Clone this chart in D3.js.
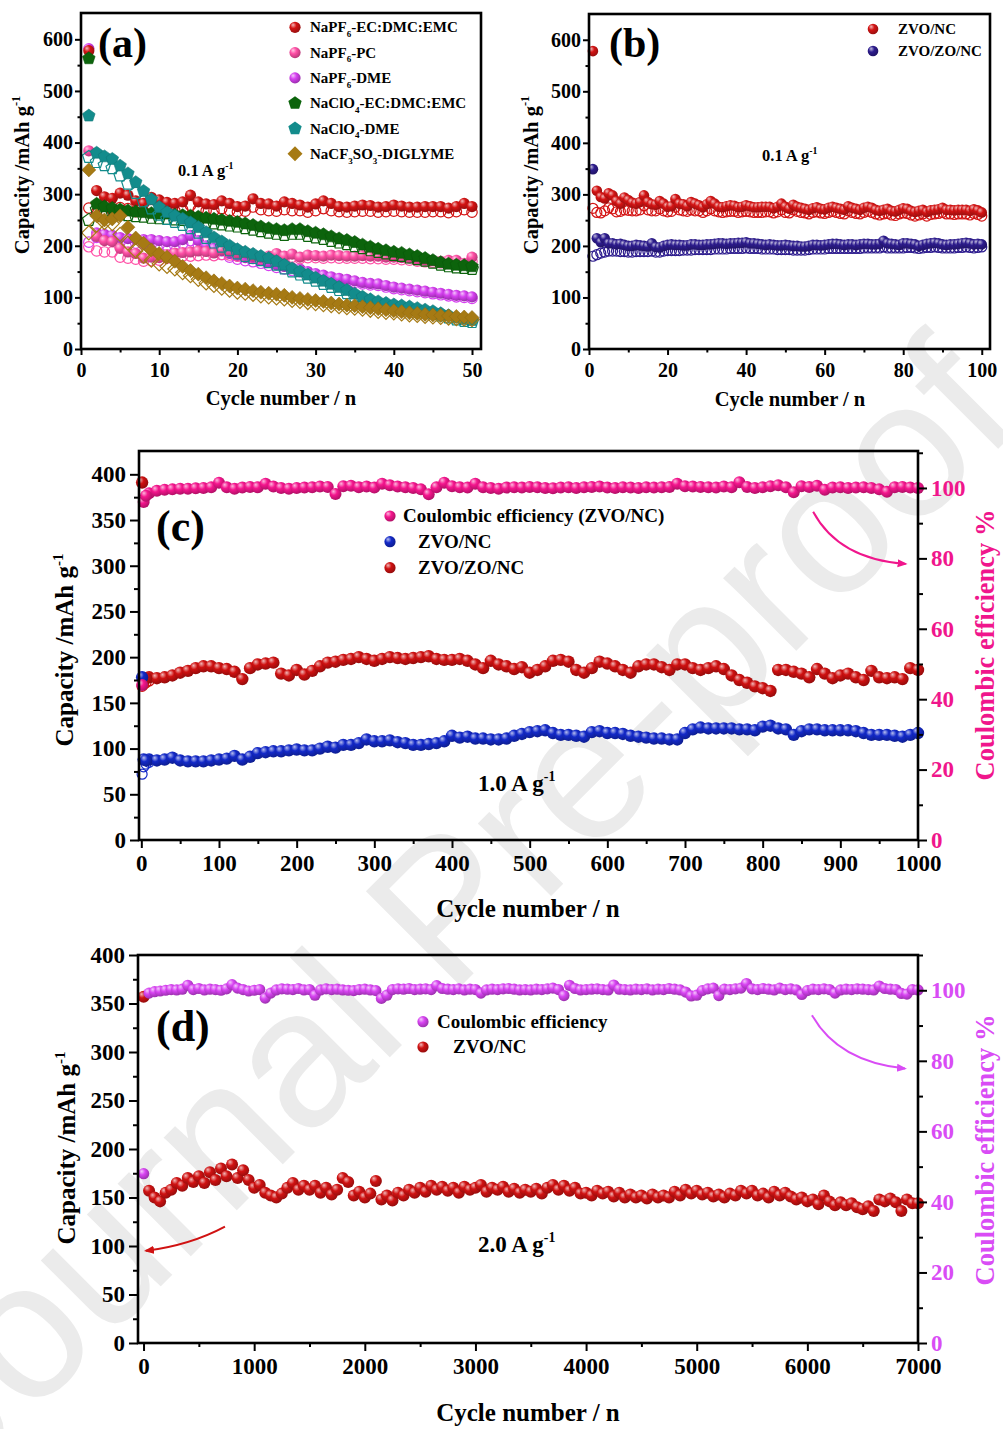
<!DOCTYPE html>
<html>
<head>
<meta charset="utf-8">
<script src="https://cdn.jsdelivr.net/npm/d3@7"></script>
<style>
  body { margin: 0; background: #fff; }
</style>
</head>
<body>
<svg id="chart" width="1003" height="1429"></svg>
<script>
// ---------- data: panel (a), cycles 1..50 ----------
const aRedD   = [578,307,295,292,302,298,287,282,294,289,284,282,285,298,285,281,280,287,282,276,277,291,282,281,277,285,282,279,275,281,287,282,276,275,277,279,278,275,276,279,277,275,275,276,276,276,273,276,282,276];
const aRedC   = [273,265,264,268,274,272,266,267,270,269,268,268,270,278,270,268,268,272,268,266,267,275,270,268,267,270,268,268,265,268,272,268,266,265,266,267,267,265,266,267,266,265,265,265,266,266,264,266,270,265];
const aPinkD  = [384,218,210,208,195,188,185,176,178,177,183,186,187,188,190,189,186,192,190,186,186,180,178,180,185,180,184,178,182,181,180,182,181,180,180,181,180,180,178,178,177,176,173,172,171,170,172,172,166,178];
const aPinkC  = [198,190,188,188,178,176,174,170,171,172,176,178,180,180,181,182,181,183,182,180,180,176,175,176,178,176,178,175,177,177,176,177,176,176,176,176,175,175,174,174,173,172,170,169,168,167,168,168,164,170];
const aVioD   = [582,225,222,220,216,214,213,212,212,210,208,208,212,220,210,200,195,190,185,180,177,175,172,168,163,160,157,155,150,146,143,140,137,135,132,129,127,126,123,120,118,116,114,112,110,108,106,104,103,101];
const aVioC   = [207,216,213,212,208,206,205,204,204,202,200,200,204,210,202,193,188,183,178,174,171,169,166,162,158,155,152,150,146,142,139,136,134,132,129,126,124,123,120,117,115,113,111,109,107,105,103,101,100,98];
const aGreenD = [563,281,276,273,270,268,266,265,263,262,262,260,259,258,256,254,252,250,248,246,243,240,237,234,232,230,232,232,228,225,222,218,214,211,207,202,198,194,191,188,186,183,180,176,172,168,165,163,162,160];
const aGreenC = [250,270,266,263,261,259,257,256,254,253,252,251,250,249,247,245,243,241,239,237,234,231,228,225,223,221,223,223,219,216,213,209,206,203,199,195,191,188,185,182,180,177,174,171,167,163,160,158,157,155];
const aTealD  = [452,380,373,368,355,340,323,306,290,275,265,258,252,245,236,226,216,208,200,193,188,184,180,176,170,163,156,150,144,138,132,126,120,114,107,101,96,92,89,86,84,82,79,76,73,69,65,61,58,56];
const aTealC  = [372,362,356,350,336,320,302,286,272,260,252,246,240,234,225,215,206,198,191,185,180,176,172,168,163,156,150,144,138,132,126,120,114,108,101,96,91,88,85,82,80,78,75,72,69,65,61,57,54,52];
const aBrownD = [347,258,250,252,258,236,215,205,192,185,178,170,160,152,145,138,132,127,122,118,116,113,110,108,106,104,100,98,96,94,92,89,87,85,84,82,80,78,76,74,72,70,69,67,66,65,64,63,62,61];
const aBrownC = [225,240,245,243,222,205,190,180,172,165,160,155,148,142,135,128,123,118,114,110,108,106,103,101,99,97,94,92,90,88,86,84,82,80,79,77,75,73,71,70,68,66,65,63,62,61,60,59,58,57];
const aNames  = ["NaPF_{6}-EC:DMC:EMC","NaPF_{6}-PC","NaPF_{6}-DME","NaClO_{4}-EC:DMC:EMC","NaClO_{4}-DME","NaCF_{3}SO_{3}-DIGLYME"];

// ---------- data: panel (b), cycles 1..100 ----------
const bRedD  = aRedD.concat([272,280,276,274,272,270,273,275,272,271,274,276,274,272,270,277,274,272,270,274,276,274,270,268,270,272,268,267,270,273,272,268,266,268,270,266,269,270,271,274,270,270,269,270,270,270,268,271,269,265]);
const bRedC  = aRedC.concat([264,270,267,265,264,262,265,266,264,263,265,267,265,263,262,268,265,263,262,265,267,265,262,260,262,263,260,259,262,264,263,260,258,260,262,258,261,262,263,265,262,262,261,262,262,262,260,263,261,258]);
const bBlueD = [349,215,207,215,205,205,203,204,202,200,200,202,201,200,199,205,198,197,200,202,203,202,202,201,201,203,203,202,202,203,203,204,205,205,204,205,205,206,206,207,205,205,204,203,202,203,202,201,201,202,201,200,200,199,199,200,202,202,201,202,203,204,204,203,202,203,203,202,203,204,204,203,203,204,210,205,204,203,202,205,205,204,203,200,202,204,205,206,205,203,202,203,203,204,205,206,205,203,204,203];
const bBlueC = [180,183,186,188,190,190,190,189,189,188,188,189,189,189,189,190,188,188,190,191,191,191,191,192,192,192,193,193,193,193,193,194,194,194,194,195,195,195,195,196,195,195,195,194,194,194,194,193,193,193,193,192,192,192,192,193,194,194,194,194,195,195,195,195,195,195,195,195,195,196,196,196,196,196,198,196,196,196,196,196,197,197,196,195,196,197,197,198,197,196,196,196,196,197,197,198,197,196,197,198];
const bNames = ["ZVO/NC","ZVO/ZO/NC"];

// ---------- data: panel (c), cycles 1,10,20..1000 ----------
const cRed = [391,178,177,178,180,183,185,188,190,190, 188,187,184,176,188,192,193,194,182,180, 186,181,185,190,194,195,197,198,200,198,
              196,198,200,199,198,199,200,201,198,197, 197,198,196,192,188,196,192,190,187,189, 183,186,190,196,197,195,186,183,188,195,
              193,190,186,183,190,192,192,189,186,192, 192,188,186,188,190,187,180,175,172,168, 166,163,186,186,184,182,178,187,182,177,
              180,182,178,175,185,178,177,178,176,188, 186];
const cBlue = [178,88,87,88,90,87,86,86,86,87, 88,89,92,88,91,95,96,97,97,98, 99,98,98,100,102,101,104,104,106,110,
               108,108,109,107,106,104,104,105,106,108, 114,112,113,111,111,110,110,111,114,116, 118,119,120,117,115,115,114,113,118,119,
               117,117,116,114,113,112,111,111,110,110, 117,121,123,122,122,122,122,121,121,120, 124,125,122,121,115,119,121,121,120,120,
               120,120,119,117,115,115,115,114,113,115, 117];
const cCE = [44,98.5,99.2,99.5,99.6,99.8,99.8,99.9,100,100.2, 101.5,100.2,99.8,100.1,100.3,100.2,101.2,100.4,100,99.8,
             100,100.1,100.2,100.4,100.3,98.3,100.5,100.6,100.2,100.4, 100.1,101.2,100.8,100.4,100.2,100,99.6,98.2,100.2,101.5,
             100.5,100.2,100.1,101.2,100.2,100,99.8,100.1,100.2,100.1, 100.3,100.2,100,99.9,100.1,100.2,100,100.2,100.3,100.4,
             100.1,100,100.2,100.1,100,100.2,100.1,100.2,100.3,101.2, 100.5,100.4,100.3,100.2,100.1,100.4,100.2,101.6,100.3,100,
             100.2,100.5,100.8,100.2,98.8,100.5,100.3,100.6,99.5,100.1, 100.2,100,100.1,100.2,100,99.6,98.9,100.2,100.3,100.1, 100];
const cEarlyCycle = [3, 6];
const cEarlyCE    = [96, 97.8];
const cEarlyRed   = [176, 177];
const cEarlyBlue  = [88, 87];
const cChargeCycle = [1, 3, 6, 10];
const cBlueCharge  = [72, 80, 83, 85];
const cRedCharge   = [168, 170, 172, 174];
const cNames = ["Coulombic efficiency (ZVO/NC)", "ZVO/NC", "ZVO/ZO/NC"];

// ---------- data: panel (d), cycles 1,50,100..7000 ----------
const dCap = [357,157,150,146,155,158,165,162,170,166, 172,165,176,168,180,172,184,170,178,168, 160,163,155,152,150,154,160,165,158,162,
              158,162,155,160,153,158,170,166,152,156, 150,154,167,148,152,147,155,152,158,155, 160,156,162,158,161,157,160,155,161,158,
              160,163,156,160,158,161,156,159,155,158, 156,159,154,160,163,158,162,157,160,154, 155,152,157,154,156,151,155,150,153,150,
              152,149,153,150,152,150,156,152,158,154, 157,153,155,151,153,150,154,152,157,154, 157,152,154,150,156,152,155,151,148,150,
              146,148,143,152,146,142,145,142,144,140, 138,141,136,148,146,149,145,136,148,144, 144];
const dCE = [48,99.2,99.6,99.8,100,100.2,100.1,100.3,101.4,100.2, 100.5,100.1,100.3,100.2,100,100.4,101.6,100.6,100.2,99.8,
             100,100.2,97.8,99.2,100.1,100.4,100.3,100.2,100.5,100.1, 100.2,98.6,100.1,100.4,100.2,100.3,100.1,100,99.9,100.2,
             100.3,100.1,99.9,97.7,98.6,100.2,100.4,100.3,100.5,100.2, 100.3,100.4,100.2,101.3,100.5,100.3,100.2,100.4,100.1,100.3,
             100.2,99.2,100.1,100.3,100.2,100.4,100.5,100.3,100.1,100.2, 100.1,100.3,100.2,100.4,100.6,100.2,98.5,101.4,100.5,100.1,
             100.2,100.3,100.4,100.2,100.1,101.5,100.3,100.2,100.1,100.3, 100.2,100.4,100.1,100.3,100.2,100.5,100.3,100.1,99.5,98.4,
             98.6,99.9,100.4,100.6,98.5,100.3,100.2,100.4,100.6,101.9, 100.4,100.2,100.5,100.3,100.1,100.6,100.2,100.4,100.1,98.8,
             99.9,100.3,100.2,100.4,100.2,99.2,100.1,100.3,100.2,100.4, 100.3,100.2,100.1,101.2,100.5,100.3,100.2,99.1,98.9,100.2, 100.1];
const dNames = ["Coulombic efficiency", "ZVO/NC"];

// ---------- ticks ----------
const aXTicks = [0,10,20,30,40,50],  aXMinor = [5,15,25,35,45];
const bXTicks = [0,20,40,60,80,100], bXMinor = [10,30,50,70,90];
const abYTicks = [0,100,200,300,400,500,600], abYMinor = [50,150,250,350,450,550];
const cXTicks = [0,100,200,300,400,500,600,700,800,900,1000], cXMinor = [50,150,250,350,450,550,650,750,850,950];
const dXTicks = [0,1000,2000,3000,4000,5000,6000,7000], dXMinor = [500,1500,2500,3500,4500,5500,6500];
const cdYTicks = [0,50,100,150,200,250,300,350,400], cdYMinor = [25,75,125,175,225,275,325,375];
const ceTicks = [0,20,40,60,80,100], ceMinor = [10,30,50,70,90,110];

const serif = "'Liberation Serif','Times New Roman',serif";
const svg = d3.select("#chart");
const defs = svg.append("defs");

// watermark
svg.append("text")
  .attr("transform", "translate(-41,1488) rotate(-45)")
  .attr("font-family", "'Liberation Sans',Arial,sans-serif")
  .attr("font-size", 195)
  .attr("fill", "#ebebeb")
  .text("Journal Pre-proof");

function ballGrad(id, c) {
  const g = defs.append("radialGradient").attr("id", id)
    .attr("cx", "40%").attr("cy", "38%").attr("r", "62%").attr("fx", "32%").attr("fy", "28%");
  g.append("stop").attr("offset", "0%").attr("stop-color", d3.interpolateRgb(c, "#fff")(0.7));
  g.append("stop").attr("offset", "45%").attr("stop-color", c);
  g.append("stop").attr("offset", "100%").attr("stop-color", d3.color(c).darker(0.9));
  return "url(#" + id + ")";
}

function pentagon(r) {
  const p = d3.path();
  for (let k = 0; k < 5; k++) {
    const a = -Math.PI / 2 + k * 2 * Math.PI / 5;
    k ? p.lineTo(r * Math.cos(a), r * Math.sin(a)) : p.moveTo(r * Math.cos(a), r * Math.sin(a));
  }
  p.closePath();
  return p.toString();
}
function diamond(r) {
  return `M0,${-r}L${r},0L0,${r}L${-r},0Z`;
}

// text with _{sub} and ^{sup}
function rich(t, str) {
  const fs = +t.attr("font-size");
  let shift = 0;
  str.split(/([_^]\{[^}]*\})/).filter(s => s.length).forEach(p => {
    const ts = t.append("tspan");
    if (p[0] === "_" || p[0] === "^") {
      const s = p[0] === "_" ? fs * 0.32 : -fs * 0.42;
      ts.attr("font-size", fs * 0.6).attr("dy", s - shift).text(p.slice(2, -1));
      shift = s;
    } else {
      ts.attr("dy", -shift).text(p);
      shift = 0;
    }
  });
  return t;
}
function label(g, x, y, str, fs, opt = {}) {
  const t = g.append("text").attr("x", x).attr("y", y)
    .attr("font-family", serif).attr("font-weight", "bold").attr("font-size", fs)
    .attr("fill", opt.color || "#000").attr("text-anchor", opt.anchor || "start");
  if (opt.rotate) t.attr("transform", `rotate(${opt.rotate},${x},${y})`);
  return rich(t, str);
}

function axis(g, gen, scale, major, minor, pos, o) {
  const gg = g.append("g").attr("transform", pos);
  gg.append("g").call(gen(scale).tickValues(minor).tickSize(o.minLen).tickFormat(""));
  gg.append("g").call(gen(scale).tickValues(major).tickSize(o.majLen).tickPadding(o.pad).tickFormat(d3.format("d")));
  gg.selectAll(".domain").remove();
  gg.selectAll(".tick line").attr("stroke", "#000").attr("stroke-width", 2);
  gg.selectAll(".tick text")
    .attr("font-family", serif).attr("font-weight", "bold").attr("font-size", o.fs)
    .attr("fill", o.color || "#000");
  return gg;
}

function frame(g, x, y) {
  g.append("rect")
    .attr("x", x.range()[0]).attr("y", y.range()[1])
    .attr("width", x.range()[1] - x.range()[0]).attr("height", y.range()[0] - y.range()[1])
    .attr("fill", "none").attr("stroke", "#000").attr("stroke-width", 2.6);
}

function balls(g, xs, vals, x, y, r, fill) {
  g.append("g").selectAll("circle").data(vals).join("circle")
    .attr("cx", (d, i) => x(xs[i])).attr("cy", d => y(d)).attr("r", r).attr("fill", fill);
}
function rings(g, xs, vals, x, y, r, color) {
  g.append("g").selectAll("circle").data(vals).join("circle")
    .attr("cx", (d, i) => x(xs[i])).attr("cy", d => y(d)).attr("r", r)
    .attr("fill", "none").attr("stroke", color).attr("stroke-width", 1.2);
}
function shapes(g, xs, vals, x, y, path, color, hollow) {
  g.append("g").selectAll("path").data(vals).join("path")
    .attr("transform", (d, i) => `translate(${x(xs[i])},${y(d)})`)
    .attr("d", path)
    .attr("fill", hollow ? "none" : color)
    .attr("stroke", hollow ? color : d3.color(color).darker(0.4))
    .attr("stroke-width", hollow ? 1.2 : 0.6);
}

function arrow(g, id, color, pts, x, y) {
  defs.append("marker").attr("id", id).attr("viewBox", "0 0 10 10")
    .attr("refX", 8).attr("refY", 5).attr("markerWidth", 5).attr("markerHeight", 5)
    .attr("orient", "auto").append("path").attr("d", "M0,1L10,5L0,9Z").attr("fill", color);
  const p = d3.path();
  p.moveTo(x(pts[0][0]), y(pts[0][1]));
  p.quadraticCurveTo(x(pts[1][0]), y(pts[1][1]), x(pts[2][0]), y(pts[2][1]));
  g.append("path").attr("d", p.toString()).attr("fill", "none").attr("stroke", color)
    .attr("stroke-width", 2).attr("marker-end", `url(#${id})`);
}

// ================= panel (a) =================
{
  const g = svg.append("g");
  const x = d3.scaleLinear().domain([0, 51.15]).range([81, 481]);
  const y = d3.scaleLinear().domain([0, 651]).range([349, 13]);
  const cyc = d3.range(1, 51);
  const series = [
    { d: aRedD,   c: aRedC,   color: "#d41414", kind: "ball" },
    { d: aPinkD,  c: aPinkC,  color: "#ff4fa6", kind: "ball" },
    { d: aVioD,   c: aVioC,   color: "#d640f0", kind: "ball" },
    { d: aGreenD, c: aGreenC, color: "#0c640c", kind: "pent" },
    { d: aTealD,  c: aTealC,  color: "#138c8c", kind: "pent" },
    { d: aBrownD, c: aBrownC, color: "#a67a14", kind: "diam" }
  ];
  series.forEach((s, i) => { s.fill = ballGrad("ga" + i, s.color); });
  // drawing order: DME, PC, EC:DMC:EMC, then the ClO4 / CF3SO3 sets
  [2, 1, 0, 3, 4, 5].forEach(i => {
    const s = series[i];
    if (s.kind === "ball") {
      rings(g, cyc, s.c, x, y, 5.2, s.color);
      balls(g, cyc, s.d, x, y, 5.6, s.fill);
    } else {
      const path = s.kind === "pent" ? pentagon(6.6) : diamond(7);
      shapes(g, cyc, s.c, x, y, path, s.color, true);
      shapes(g, cyc, s.d, x, y, path, s.color, false);
    }
  });
  const o = { fs: 20, majLen: 6, minLen: 3.5, pad: 2 };
  axis(g, d3.axisLeft, y, abYTicks, abYMinor, "translate(81,0)", o);
  axis(g, d3.axisBottom, x, aXTicks, aXMinor, "translate(0,349)", { ...o, pad: 8 });
  frame(g, x, y);
  series.forEach((s, i) => {
    const ly = 27.3 + i * 25.3;
    if (s.kind === "ball") g.append("circle").attr("cx", 295).attr("cy", ly).attr("r", 5.6).attr("fill", s.fill);
    else g.append("path").attr("transform", `translate(295,${ly})`)
      .attr("d", s.kind === "pent" ? pentagon(7) : diamond(7.5)).attr("fill", s.color);
    label(g, 310, ly + 5, aNames[i], 15);
  });
  label(g, 98, 57, "(a)", 42);
  label(g, 178, 176, "0.1 A g^{-1}", 16.5);
  label(g, 281, 405, "Cycle number / n", 20.5, { anchor: "middle" });
  label(g, 29, 175, "Capacity /mAh g^{-1}", 20.5, { anchor: "middle", rotate: -90 });
}

// ================= panel (b) =================
{
  const g = svg.append("g");
  const x = d3.scaleLinear().domain([0, 102.1]).range([589, 990]);
  const y = d3.scaleLinear().domain([0, 650]).range([349, 14]);
  const cyc = d3.range(1, 101);
  const fr = ballGrad("gbr", "#d41414"), fb = ballGrad("gbb", "#2d1c8e");
  rings(g, cyc, bRedC, x, y, 5, "#d41414");
  balls(g, cyc, bRedD, x, y, 5.3, fr);
  rings(g, cyc, bBlueC, x, y, 5, "#2d1c8e");
  balls(g, cyc, bBlueD, x, y, 5.3, fb);
  const o = { fs: 20, majLen: 6, minLen: 3.5, pad: 2 };
  axis(g, d3.axisLeft, y, abYTicks, abYMinor, "translate(589,0)", o);
  axis(g, d3.axisBottom, x, bXTicks, bXMinor, "translate(0,349)", { ...o, pad: 8 });
  frame(g, x, y);
  [fr, fb].forEach((f, i) => {
    const ly = 29 + i * 22;
    g.append("circle").attr("cx", 873).attr("cy", ly).attr("r", 5.3).attr("fill", f);
    label(g, 898, ly + 5, bNames[i], 15);
  });
  label(g, 609, 57, "(b)", 42);
  label(g, 762, 161, "0.1 A g^{-1}", 16.5);
  label(g, 790, 406, "Cycle number / n", 20.5, { anchor: "middle" });
  label(g, 538, 175, "Capacity /mAh g^{-1}", 20.5, { anchor: "middle", rotate: -90 });
}

// ================= panel (c) =================
{
  const g = svg.append("g");
  const x = d3.scaleLinear().domain([-3, 1000]).range([139, 918]);
  const y = d3.scaleLinear().domain([0, 425.5]).range([840, 451]);
  const yc = d3.scaleLinear().domain([0, 110.5]).range([840, 451]);
  const cyc = d3.range(0, 1001, 10).map(v => v || 1);
  const fr = ballGrad("gcr", "#cf1111"), fb = ballGrad("gcb", "#1329c8"), fp = ballGrad("gcp", "#f5168e");
  rings(g, cChargeCycle, cRedCharge, x, y, 5, "#cf1111");
  balls(g, cyc, cRed, x, y, 6.2, fr);
  balls(g, cEarlyCycle, cEarlyRed, x, y, 6.2, fr);
  rings(g, cChargeCycle, cBlueCharge, x, y, 5, "#1329c8");
  balls(g, cyc, cBlue, x, y, 6.2, fb);
  balls(g, cEarlyCycle, cEarlyBlue, x, y, 6.2, fb);
  balls(g, cyc, cCE, x, yc, 6, fp);
  balls(g, cEarlyCycle, cEarlyCE, x, yc, 6, fp);
  const o = { fs: 23, majLen: 9, minLen: 5, pad: 4 };
  axis(g, d3.axisLeft, y, cdYTicks, cdYMinor, "translate(139,0)", o);
  axis(g, d3.axisRight, yc, ceTicks, ceMinor, "translate(918,0)", { ...o, color: "#f0168c" });
  axis(g, d3.axisBottom, x, cXTicks, cXMinor, "translate(0,840)", { ...o, majLen: 8, minLen: 4, pad: 7 });
  frame(g, x, y);
  [fp, fb, fr].forEach((f, i) => {
    const ly = [516, 541.7, 567.7][i];
    g.append("circle").attr("cx", 390).attr("cy", ly).attr("r", 5.6).attr("fill", f);
    label(g, i ? 418 : 403, ly + 6, cNames[i], 19);
  });
  arrow(g, "arc", "#f0168c", [[865, 359], [898, 307], [984, 302]], x, y);
  label(g, 156, 541, "(c)", 44);
  label(g, 478, 791, "1.0 A g^{-1}", 23);
  label(g, 528, 917, "Cycle number / n", 25, { anchor: "middle" });
  label(g, 73, 650, "Capacity /mAh g^{-1}", 25, { anchor: "middle", rotate: -90 });
  label(g, 994, 645, "Coulombic efficiency %", 26.5, { anchor: "middle", rotate: -90, color: "#f0168c" });
}

// ================= panel (d) =================
{
  const g = svg.append("g");
  const x = d3.scaleLinear().domain([-50, 7000]).range([138, 918]);
  const y = d3.scaleLinear().domain([0, 400]).range([1343, 955]);
  const yc = d3.scaleLinear().domain([0, 110]).range([1343, 955]);
  const cyc = d3.range(0, 7001, 50).map(v => v || 1);
  const fr = ballGrad("gdr", "#d01212"), fv = ballGrad("gdv", "#d844f2");
  balls(g, cyc, dCap, x, y, 6, fr);
  balls(g, cyc, dCE, x, yc, 5.6, fv);
  const o = { fs: 23, majLen: 9, minLen: 5, pad: 4 };
  axis(g, d3.axisLeft, y, cdYTicks, cdYMinor, "translate(138,0)", o);
  axis(g, d3.axisRight, yc, ceTicks, ceMinor, "translate(918,0)", { ...o, color: "#d94cf5" });
  axis(g, d3.axisBottom, x, dXTicks, dXMinor, "translate(0,1343)", { ...o, majLen: 8, minLen: 4, pad: 7 });
  frame(g, x, y);
  [fv, fr].forEach((f, i) => {
    const ly = [1021.7, 1047][i];
    g.append("circle").attr("cx", 423).attr("cy", ly).attr("r", 5.6).attr("fill", f);
    label(g, i ? 453 : 437, ly + 6, dNames[i], 19);
  });
  arrow(g, "ard", "#d94cf5", [[6042, 338], [6277, 290], [6882, 283]], x, y);
  arrow(g, "arr", "#d01212", [[736, 120], [425, 101], [22, 95]], x, y);
  label(g, 156, 1041, "(d)", 44);
  label(g, 478, 1252, "2.0 A g^{-1}", 23);
  label(g, 528, 1421, "Cycle number / n", 25, { anchor: "middle" });
  label(g, 75, 1148, "Capacity /mAh g^{-1}", 25, { anchor: "middle", rotate: -90 });
  label(g, 994, 1150, "Coulombic efficiency %", 26.5, { anchor: "middle", rotate: -90, color: "#d94cf5" });
}
</script>
</body>
</html>
